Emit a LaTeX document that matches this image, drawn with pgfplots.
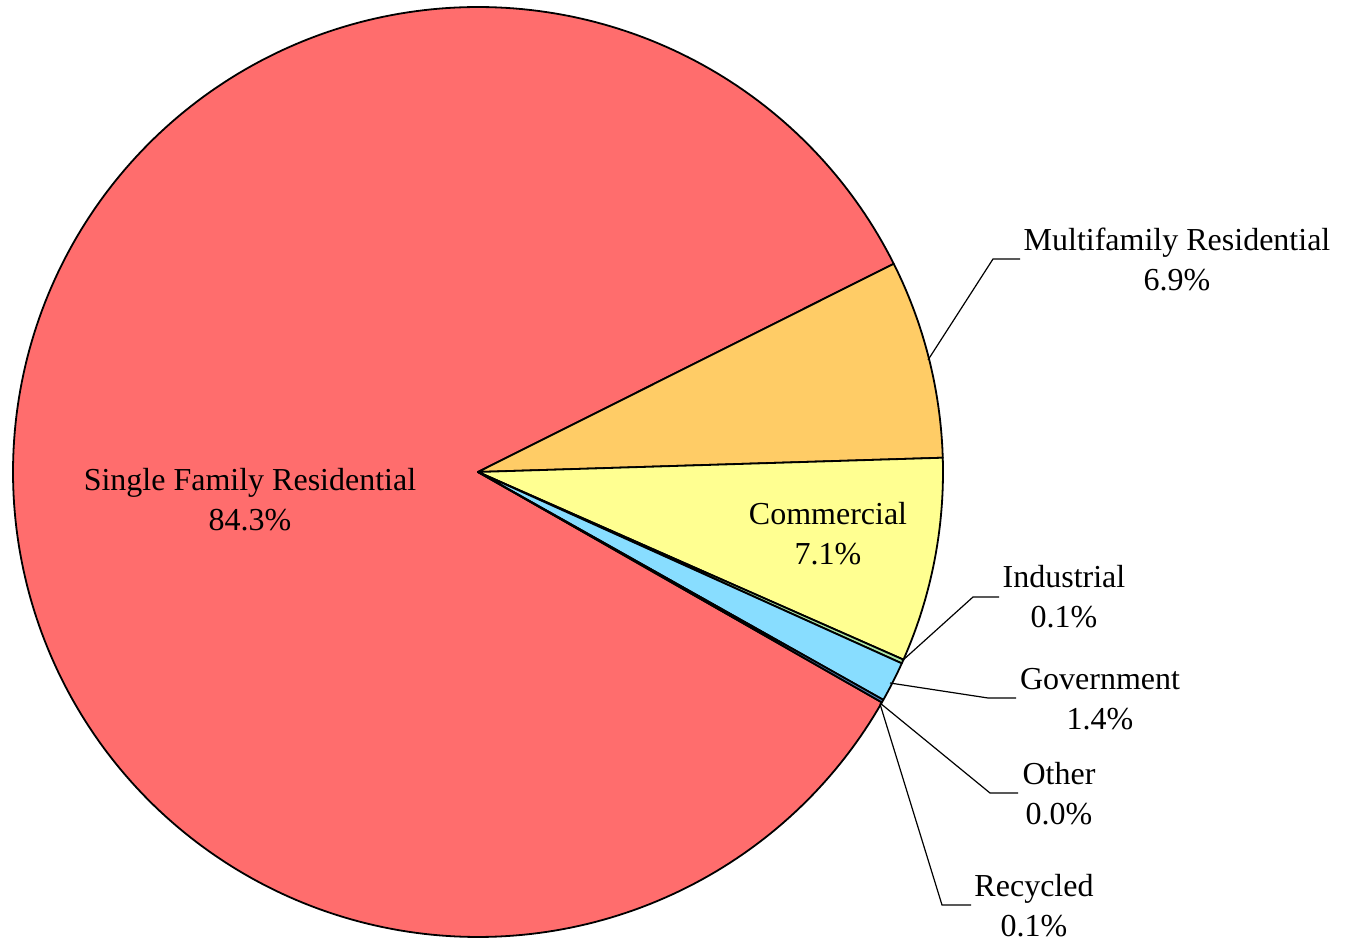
\documentclass[border=0pt]{standalone}
\usepackage{pgfplots}
\pgfplotsset{compat=1.18}
\usepackage{fontspec}
\setmainfont{Liberation Serif}
\definecolor{sfc}{HTML}{FF6D6D}
\definecolor{mfc}{HTML}{FFCC66}
\definecolor{comc}{HTML}{FFFF91}
\definecolor{indc}{HTML}{ADE8A6}
\definecolor{govc}{HTML}{88DDFF}
\definecolor{recc}{HTML}{5A8CC8}
% shares in percent (labelled values; the tiny slices)
\pgfmathsetmacro\pMF{6.9}
\pgfmathsetmacro\pCom{7.1}
\pgfmathsetmacro\pInd{0.14}
\pgfmathsetmacro\pGov{1.4}
\pgfmathsetmacro\pOth{0.0}
\pgfmathsetmacro\pRec{0.1}
\pgfmathsetmacro\pSF{84.3}
\pgfmathsetmacro\aS{26.6}
\pgfmathsetmacro\aMF{\aS-3.6*\pMF}
\pgfmathsetmacro\aCom{\aMF-3.6*\pCom}
\pgfmathsetmacro\aInd{\aCom-3.6*\pInd}
\pgfmathsetmacro\aGov{\aInd-3.6*\pGov}
\pgfmathsetmacro\aOth{\aGov-3.6*\pOth}
\pgfmathsetmacro\aRec{\aOth-3.6*\pRec}
\pgfmathsetmacro\aSF{\aS-360}
\begin{document}
\begin{tikzpicture}
\begin{axis}[x=0.5pt,y=0.5pt,xmin=0,xmax=1348,ymin=0,ymax=942,
  hide axis, clip=false, axis line style={draw=none}]
\pgfplotsset{slice/.style={draw=black,line width=0.9pt,line join=round,variable=\t}}
\addplot[slice,fill=sfc,domain=\aSF:\aRec,samples=300] ({478+465*cos(\t)},{470+465*sin(\t)}) -- (axis cs:478,470) -- cycle;
\addplot[slice,fill=mfc,domain=\aMF:\aS,samples=40] ({478+465*cos(\t)},{470+465*sin(\t)}) -- (axis cs:478,470) -- cycle;
\addplot[slice,fill=comc,domain=\aCom:\aMF,samples=40] ({478+465*cos(\t)},{470+465*sin(\t)}) -- (axis cs:478,470) -- cycle;
\addplot[slice,fill=indc,domain=\aInd:\aCom,samples=3] ({478+465*cos(\t)},{470+465*sin(\t)}) -- (axis cs:478,470) -- cycle;
\addplot[slice,fill=govc,domain=\aGov:\aInd,samples=10] ({478+465*cos(\t)},{470+465*sin(\t)}) -- (axis cs:478,470) -- cycle;
\addplot[slice,fill=recc,domain=\aRec:\aOth,samples=3] ({478+465*cos(\t)},{470+465*sin(\t)}) -- (axis cs:478,470) -- cycle;
% leader lines
\draw[black,line width=0.6pt] (axis cs:928,582) -- (axis cs:993,683) -- (axis cs:1020,683);
\draw[black,line width=0.6pt] (axis cs:902,281) -- (axis cs:973,345) -- (axis cs:999,345);
\draw[black,line width=0.6pt] (axis cs:890,259) -- (axis cs:988,244) -- (axis cs:1016,244);
\draw[black,line width=0.6pt] (axis cs:880,239) -- (axis cs:990,149) -- (axis cs:1018,149);
\draw[black,line width=0.6pt] (axis cs:880,238) -- (axis cs:942,37) -- (axis cs:971,37);
% labels
\tikzset{lab/.style={align=center,font=\fontsize{16}{20}\selectfont,inner sep=0pt}}
\node[lab] at (axis cs:1177,683) {Multifamily Residential\\6.9\%};
\node[lab] at (axis cs:250,442) {Single Family Residential\\84.3\%};
\node[lab] at (axis cs:828,408) {Commercial\\7.1\%};
\node[lab] at (axis cs:1064,345) {Industrial\\0.1\%};
\node[lab] at (axis cs:1100,243) {Government\\1.4\%};
\node[lab] at (axis cs:1059,148) {Other\\0.0\%};
\node[lab] at (axis cs:1034,36) {Recycled\\0.1\%};
\end{axis}
\pgfresetboundingbox
\path[use as bounding box] (0,0) rectangle (674pt,471pt);
\end{tikzpicture}
\end{document}
